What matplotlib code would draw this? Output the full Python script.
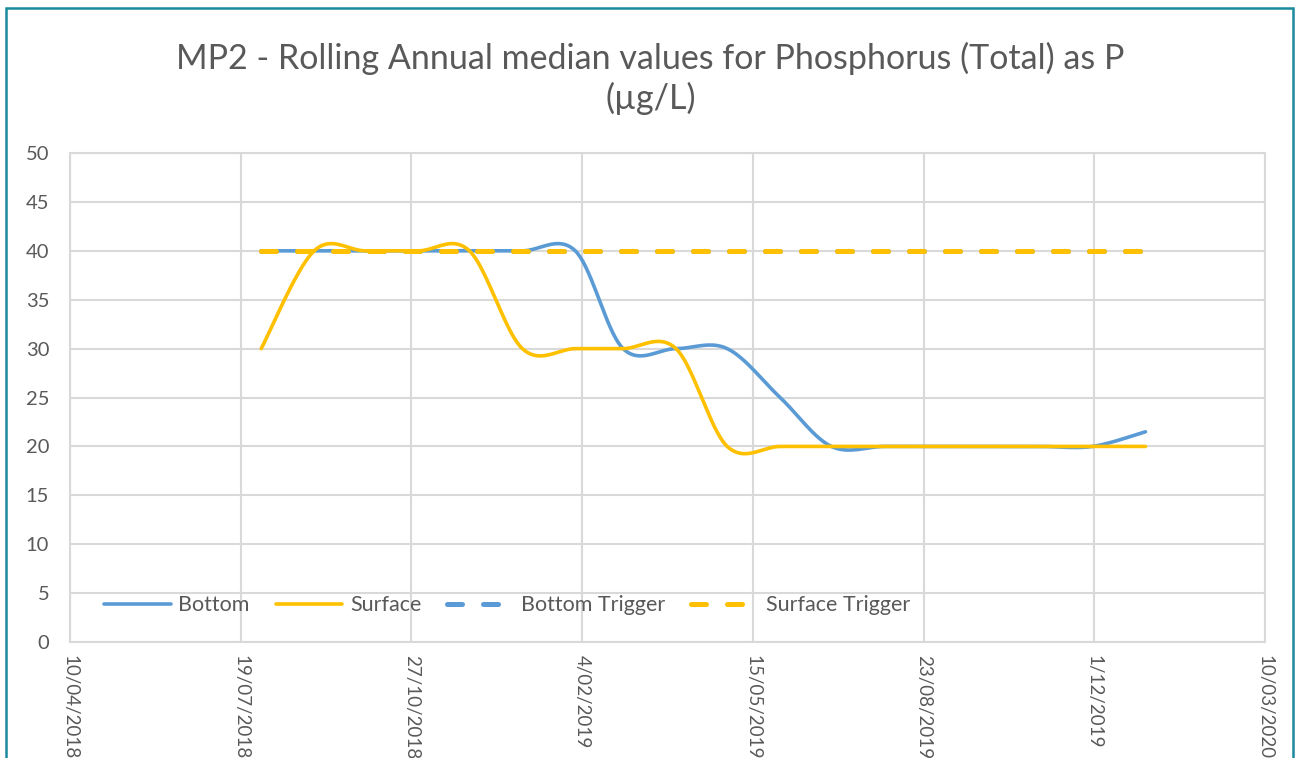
import numpy as np
import pandas as pd
import matplotlib
matplotlib.use("Agg")
import matplotlib.pyplot as plt
import matplotlib.dates as mdates
from matplotlib.patches import Rectangle

# monthly rolling annual medians (end of month)
dates = pd.date_range("2018-07-31", periods=18, freq="ME")
bottom = [40, 40, 40, 40, 40, 40, 40, 30, 30, 30, 25, 20, 20, 20, 20, 20, 20, 21.5]
surface = [30, 40, 40, 40, 40, 30, 30, 30, 30, 20, 20, 20, 20, 20, 20, 20, 20, 20]
bottom_trigger = [40] * 18
surface_trigger = [40] * 18

tick_dates = pd.date_range("2018-04-10", "2020-03-10", freq="100D")
tick_labels = [f"{d.day}/{d.month:02d}/{d.year}" for d in tick_dates]
y_ticks = list(range(0, 55, 5))

BLUE = "#5b9bd5"
GOLD = "#ffc000"
GRID = "#d9d9d9"
TXT = "#595959"

plt.rcParams["font.family"] = ["Lato", "DejaVu Sans"]


def smooth(x, y, n=40):
    # Excel style smoothed line: bezier through points, catmull-rom controls
    x = np.asarray(x, float)
    y = np.asarray(y, float)
    px = np.concatenate([[x[0]], x, [x[-1]]])
    py = np.concatenate([[y[0]], y, [y[-1]]])
    t = np.linspace(0, 1, n)[:, None]
    xs, ys = [], []
    for i in range(1, len(px) - 2):
        p0 = np.array([px[i], py[i]])
        p3 = np.array([px[i + 1], py[i + 1]])
        c1 = p0 + (p3 - np.array([px[i - 1], py[i - 1]])) / 6
        c2 = p3 - (np.array([px[i + 2], py[i + 2]]) - p0) / 6
        pts = ((1 - t) ** 3) * p0 + 3 * ((1 - t) ** 2) * t * c1 + 3 * (1 - t) * t ** 2 * c2 + t ** 3 * p3
        xs.append(pts[:, 0])
        ys.append(pts[:, 1])
    return np.concatenate(xs), np.concatenate(ys)


xnum = mdates.date2num(dates)

fig = plt.figure(figsize=(13.01, 7.58), dpi=100)
ax = fig.add_axes([0.0538, 0.1530, 0.9185, 0.6451])

bx, by = smooth(xnum, bottom)
sx, sy = smooth(xnum, surface)
ax.plot(bx, by, color=BLUE, lw=2.6, solid_capstyle="round", label="Bottom", zorder=3)
ax.plot(sx, sy, color=GOLD, lw=2.6, solid_capstyle="round", label="Surface", zorder=4)
ax.plot(xnum, bottom_trigger, color=BLUE, lw=3.6, dashes=(3.0, 4.2),
        dash_capstyle="round", label="Bottom Trigger", zorder=2)
ax.plot(xnum, surface_trigger, color=GOLD, lw=3.6, dashes=(3.0, 4.2),
        dash_capstyle="round", label="Surface Trigger", zorder=5)

tnum = mdates.date2num(tick_dates)
ax.set_xlim(tnum[0], tnum[-1])
ax.set_ylim(0, 50)
ax.set_xticks(tnum)
ax.set_xticklabels(tick_labels, rotation=-90, va="top", ha="center")
ax.set_yticks(y_ticks)
ax.tick_params(length=0, labelsize=14.5, labelcolor=TXT)
ax.tick_params(axis="y", pad=15)
ax.tick_params(axis="x", pad=9, labelsize=13.5)
ax.grid(True, color=GRID, lw=1.5)
ax.set_axisbelow(True)
for s in ax.spines.values():
    s.set_color(GRID)
    s.set_linewidth(1.5)

ax.legend(loc="center left", bbox_to_anchor=(0.016, 0.075), ncol=4, frameon=False,
          fontsize=15.5, handlelength=3.1, handletextpad=0.35, columnspacing=1.2,
          labelcolor=TXT, borderaxespad=0.3)

fig.text(0.5, 0.897, "MP2 - Rolling Annual median values for Phosphorus (Total) as P\n(µg/L)",
         ha="center", va="center", fontsize=24.5, color=TXT, linespacing=1.25)

fig.patches.append(Rectangle((6 / 1301, -0.05), 1287 / 1301, 1.05 - 8 / 758,
                             transform=fig.transFigure, fill=False,
                             edgecolor="#1a8a9c", lw=1.8))

fig.savefig("out.png", dpi=100)
